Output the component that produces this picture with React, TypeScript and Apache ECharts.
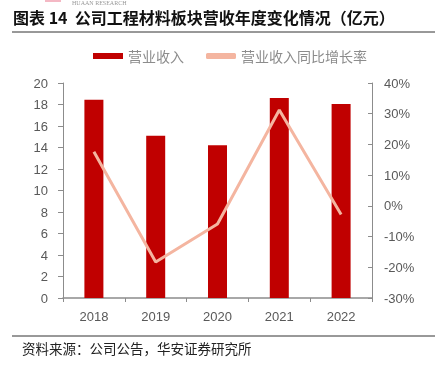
import React, { useEffect, useRef } from "react";
import * as echarts from "echarts";

const categories = ["2018", "2019", "2020", "2021", "2022"];
const revenue = [18.45, 15.1, 14.2, 18.6, 18.05];
const growth = [17.6, -18.3, -5.9, 31.2, -2.8];
const leftTicks = { min: 0, max: 20, interval: 2 };
const rightTicks = { min: -30, max: 40, interval: 10 };

const title = "图表 14  公司工程材料板块营收年度变化情况（亿元）";
const source = "资料来源：公司公告，华安证券研究所";

export default function App() {
  const ref = useRef<HTMLDivElement>(null);
  useEffect(() => {
    if (!ref.current) return;
    const chart = echarts.init(ref.current, null, { renderer: "svg" });
    const axisColor = "#8c8c8c";
    const labelColor = "#595959";
    const font = "'Liberation Sans', Arial, sans-serif";
    chart.setOption({
      animation: false,
      textStyle: { fontFamily: font },
      graphic: [
        { type: "rect", shape: { x: 45, y: 0, width: 16, height: 2 }, style: { fill: "#f4b8c4" } },
        { type: "text", x: 72, y: 0, style: { text: "HUAAN RESEARCH", font: "6px 'Liberation Serif', serif", fill: "#999" } },
        { type: "text", x: 13, y: 9, style: { text: title, font: "bold 16px 'Noto Sans CJK SC', sans-serif", fill: "#111" } },
        { type: "line", shape: { x1: 12, y1: 32, x2: 435, y2: 32 }, style: { stroke: "#333", lineWidth: 1 } },
        { type: "line", shape: { x1: 12, y1: 336, x2: 435, y2: 336 }, style: { stroke: "#333", lineWidth: 1 } },
        { type: "text", x: 22, y: 341, style: { text: source, font: "13.5px 'Noto Sans CJK SC', sans-serif", fill: "#222" } },
      ],
      legend: {
        top: 44,
        left: 88,
        itemWidth: 30,
        itemHeight: 6,
        itemGap: 22,
        textStyle: { color: "#8c8c8c", fontSize: 14, fontFamily: "'Noto Sans CJK SC', sans-serif" },
        data: [
          { name: "营业收入", icon: "rect" },
          { name: "营业收入同比增长率", icon: "roundRect" },
        ],
      },
      grid: { left: 63, right: 63, top: 83, bottom: 67 },
      xAxis: {
        type: "category",
        data: categories,
        axisLine: { lineStyle: { color: axisColor, width: 1.5 } },
        axisTick: { show: true, inside: false, length: 4, lineStyle: { color: axisColor } },
        axisLabel: { color: labelColor, fontSize: 13, margin: 12 },
      },
      yAxis: [
        {
          type: "value",
          ...leftTicks,
          axisLine: { show: true, lineStyle: { color: axisColor } },
          axisTick: { show: true, length: 5, lineStyle: { color: axisColor } },
          splitLine: { show: false },
          axisLabel: { color: labelColor, fontSize: 13, margin: 15 },
        },
        {
          type: "value",
          position: "right",
          ...rightTicks,
          axisLine: { show: true, lineStyle: { color: axisColor } },
          axisTick: { show: true, inside: true, length: 4, lineStyle: { color: axisColor } },
          splitLine: { show: false },
          axisLabel: { color: labelColor, fontSize: 13, margin: 12, formatter: "{value}%" },
        },
      ],
      series: [
        {
          name: "营业收入",
          type: "bar",
          data: revenue,
          barWidth: 19,
          itemStyle: { color: "#c00000" },
        },
        {
          name: "营业收入同比增长率",
          type: "line",
          yAxisIndex: 1,
          data: growth,
          symbol: "none",
          lineStyle: { color: "#f4b5a0", width: 3 },
          itemStyle: { color: "#f4b5a0" },
        },
      ],
    });
    return () => chart.dispose();
  }, []);
  return <div ref={ref} style={{ position: "fixed", left: 0, top: 0, width: 435, height: 365 }} />;
}
